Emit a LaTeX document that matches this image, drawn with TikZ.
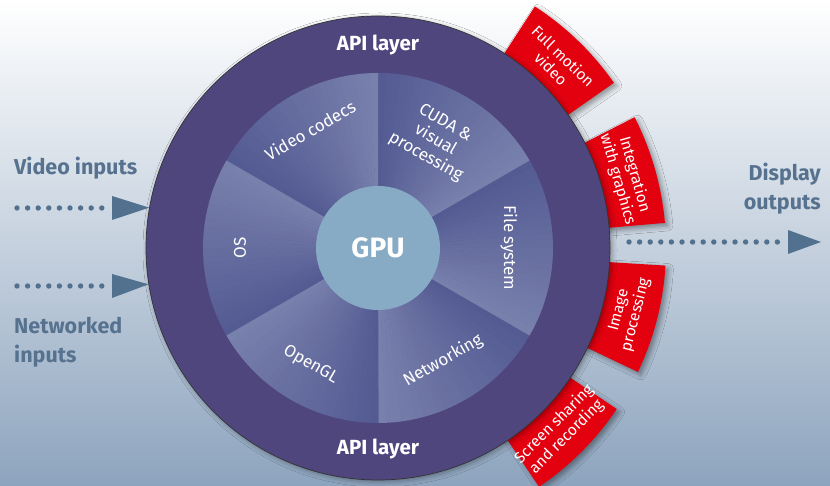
\documentclass[tikz,border=0pt]{standalone}
\usepackage{fontspec}
\setmainfont{Fira Sans}
\usetikzlibrary{calc,shadows.blur}
\definecolor{bgT}{HTML}{FFFFFF}
\definecolor{bgM}{HTML}{C9D4E1}
\definecolor{bgB}{HTML}{8DA4BE}
\definecolor{ringc}{HTML}{4F467E}
\definecolor{segD}{HTML}{545B93}
\definecolor{segL}{HTML}{7880AC}
\definecolor{gpuc}{HTML}{87ABC5}
\definecolor{tabred}{HTML}{E3000F}
\definecolor{arrc}{HTML}{52718F}
\definecolor{labc}{HTML}{56728F}
\begin{document}
\begin{tikzpicture}[x=1pt,y=1pt,
  seglab/.style={text=white,font=\fontsize{17}{19.5}\selectfont,inner sep=0pt,align=center},
  tablab/.style={text=white,font=\fontsize{15.5}{17.5}\selectfont,inner sep=0pt,align=center},
  apilab/.style={text=white,font=\bfseries\fontsize{20.5}{22}\selectfont,inner sep=0pt},
  sidelab/.style={text=labc,font=\bfseries\fontsize{21.5}{29}\selectfont,inner sep=0pt},
  dotline/.style={arrc,line width=5.4pt,line cap=round,dash pattern=on 0pt off 10.6pt},
  tabshadow/.style={blur shadow={shadow xshift=3pt,shadow yshift=-3pt,shadow blur radius=5pt,shadow opacity=40}}
]
\shade[top color=bgT, middle color=bgM, bottom color=bgB] (0,0) rectangle (830,486);
\useasboundingbox (0,0) rectangle (830,486);
\coordinate (C) at (378,238);

% red tabs
\foreach \m in {46,16,-14.5,-45} {
  \fill[tabred,tabshadow] ($(C)+(\m-11:220)$) arc[start angle=\m-11, end angle=\m+11, radius=220]
     -- ($(C)+(\m+11:288)$) arc[start angle=\m+11, end angle=\m-11, radius=288] -- cycle;
}

% outer ring
\node[circle, fill=ringc, draw=black!80, line width=0.7pt, minimum size=464pt, inner sep=0pt,
      blur shadow={shadow xshift=2pt,shadow yshift=-2pt,shadow blur radius=5pt,shadow opacity=35}] (ring) at (C) {};

% segments with gradient
\foreach \a in {-90,-30,30,90,150,210} {
  \foreach \i in {0,...,23} {
    \pgfmathsetmacro\p{100-\i*100/23}
    \pgfmathsetmacro\s{\a+\i*2.5}
    \fill[segL!\p!segD] (C) -- ($(C)+(\s:175)$) arc[start angle=\s, end angle=\s+2.7, radius=175] -- cycle;
  }
}

% GPU
\node[circle, fill=gpuc, minimum size=124pt, inner sep=0pt, text=white,
      font=\bfseries\fontsize{28}{31}\selectfont] (gpu) at (C) {GPU};

% segment labels
\node[seglab, rotate=30]  (vc)   at ($(C)+(120:136)$) {Video codecs};
\node[seglab, rotate=-30] (cuda) at ($(C)+(62:122)$) {CUDA \&\\visual\\processing};
\node[seglab, rotate=-90] (fs)   at ($(C)+(0:131)$) {File system};
\node[seglab, rotate=30]  (net)  at ($(C)+(-60:130)$) {Networking};
\node[seglab, rotate=-30] (ogl)  at ($(C)+(-120:135)$) {OpenGL};
\node[seglab, rotate=90]  (os)   at ($(C)+(180:138)$) {OS};

% API labels
\node[apilab] (apitop) at (378,441) {API layer};
\node[apilab] (apibot) at (378,37) {API layer};

% tab labels
\node[tablab, rotate=-44] (fmv) at ($(C)+(46:258)$) {Full motion\\video};
\node[tablab, rotate=-74] (iwg) at ($(C)+(16:258)$) {Integration\\with graphics};
\node[tablab, rotate=75.5] (imp) at ($(C)+(-14.5:258)$) {Image\\processing};
\node[tablab, rotate=45] (ssr) at ($(C)+(-45:258)$) {Screen sharing\\and recording};

% side labels
\node[sidelab, anchor=base west] (vin) at (14,311) {Video inputs};
\node[sidelab, anchor=north west, align=left] (nin) at (14,169) {Networked\\inputs};
\node[sidelab, anchor=north east, align=right] (dout) at (821,323) {Display\\outputs};

% arrows
\coordinate (v0) at (17,278);
\coordinate (v1) at (102,278);
\coordinate (vb) at (112,278);
\draw[dotline] (v0) -- (v1);
\fill[arrc] ($(vb)+(0,12)$) -- (ring.170) -- ($(vb)+(0,-12)$) -- cycle;

\coordinate (n0) at (17,200);
\coordinate (n1) at (102,200);
\coordinate (nb) at (112,200);
\draw[dotline] (n0) -- (n1);
\fill[arrc] ($(nb)+(0,12)$) -- (ring.189.5) -- ($(nb)+(0,-12)$) -- cycle;

\coordinate (d0) at (629,244);
\coordinate (d1) at (783,244);
\coordinate (db) at (788,244);
\coordinate (dt) at (821,244);
\draw[dotline] (d0) -- (d1);
\fill[arrc] ($(db)+(0,12)$) -- (dt) -- ($(db)+(0,-12)$) -- cycle;
\end{tikzpicture}
\end{document}
